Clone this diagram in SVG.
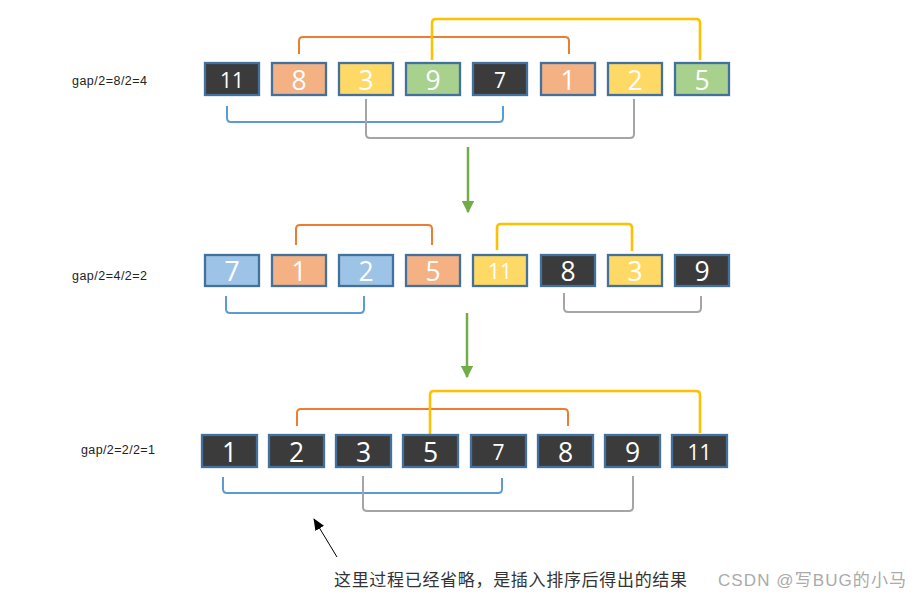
<svg xmlns="http://www.w3.org/2000/svg" width="921" height="600" viewBox="0 0 921 600">
<defs>
<style>
.box{stroke:#41719C;stroke-width:2.3}
.dk{fill:#3B3B3B}.or{fill:#F4B183}.ye{fill:#FFD966}.gr{fill:#A9D18E}.bl{fill:#9DC3E6}
.num{font-family:"Open Sans","Liberation Sans",sans-serif;fill:#FFFFFF;text-anchor:middle;font-size:26.5px}
.sm{font-size:21px}
.lbl{font-family:"Liberation Sans","Open Sans",sans-serif;font-size:12.5px;fill:#222}
.br{fill:none;stroke-width:2;stroke-linejoin:round}
.bo{stroke:#ED7D31}.by{stroke:#FFC000;stroke-width:2.6}.bb{stroke:#5B9BD5}.bg{stroke:#A5A5A5}
.ga{stroke:#70AD47;stroke-width:2.5;fill:none}
</style>
<marker id="gh" markerWidth="5" markerHeight="5" refX="4.5" refY="2.5" orient="auto" markerUnits="strokeWidth">
<path d="M0,0 L5,2.5 L0,5 Z" fill="#70AD47"/>
</marker>
<marker id="bh" markerWidth="12" markerHeight="10" refX="11" refY="5" orient="auto" markerUnits="userSpaceOnUse">
<path d="M0,0 L12,5 L0,10 Z" fill="#000"/>
</marker>
</defs>
<rect width="921" height="600" fill="#FFFFFF"/>

<text class="lbl" x="72" y="85" textLength="75">gap/2=8/2=4</text>
<text class="lbl" x="72" y="280" textLength="75">gap/2=4/2=2</text>
<text class="lbl" x="81" y="454" textLength="74">gap/2=2/2=1</text>

<g id="connectors">
<path class="br bo" d="M299,54 V41 Q299,37 303,37 H565 Q569,37 569,41 V54"/>
<path class="br by" d="M432,60 V23 Q432,19 436,19 H696 Q700,19 700,23 V60"/>
<path class="br bb" d="M227,106 V118 Q227,122 231,122 H499 Q503,122 503,118 V106"/>
<path class="br bg" d="M366,99 V134 Q366,138 370,138 H630 Q634,138 634,134 V99"/>

<path class="br bo" d="M296,245 V229 Q296,225 300,225 H428 Q432,225 432,229 V245"/>
<path class="br by" d="M497,250 V228 Q497,224 501,224 H628 Q632,224 632,228 V251"/>
<path class="br bb" d="M226,296 V309 Q226,313 230,313 H360 Q364,313 364,309 V296"/>
<path class="br bg" d="M564,293 V308 Q564,312 568,312 H697 Q701,312 701,308 V296"/>

<path class="br bo" d="M297,426 V413 Q297,409 301,409 H564 Q568,409 568,413 V426"/>
<path class="br by" d="M430,434 V395 Q430,391 434,391 H696 Q700,391 700,395 V433"/>
<path class="br bb" d="M223,477 V489 Q223,493 227,493 H498 Q502,493 502,489 V478"/>
<path class="br bg" d="M363,476 V507 Q363,511 367,511 H629 Q633,511 633,507 V476"/>

<line class="ga" x1="468" y1="147" x2="468" y2="212" marker-end="url(#gh)"/>
<line class="ga" x1="467" y1="313" x2="467" y2="377" marker-end="url(#gh)"/>

<line x1="337" y1="557" x2="314" y2="519" stroke="#000" stroke-width="1" marker-end="url(#bh)"/>
</g>

<g id="r1n1"><rect class="box dk" x="205" y="63" width="54" height="32"/><text class="num sm" x="232" y="88">11</text></g>
<g id="r1n2"><rect class="box or" x="272" y="63" width="54" height="32"/><text class="num" x="299" y="90">8</text></g>
<g id="r1n3"><rect class="box ye" x="339" y="63" width="54" height="32"/><text class="num" x="366" y="90">3</text></g>
<g id="r1n4"><rect class="box gr" x="406" y="63" width="54" height="32"/><text class="num" x="433" y="90">9</text></g>
<g id="r1n5"><rect class="box dk" x="473" y="63" width="54" height="32"/><text class="num sm" x="500" y="88">7</text></g>
<g id="r1n6"><rect class="box or" x="541" y="63" width="54" height="32"/><text class="num" x="568" y="90">1</text></g>
<g id="r1n7"><rect class="box ye" x="608" y="63" width="54" height="32"/><text class="num" x="635" y="90">2</text></g>
<g id="r1n8"><rect class="box gr" x="675" y="63" width="54" height="32"/><text class="num" x="702" y="90">5</text></g>

<g id="r2n1"><rect class="box bl" x="205" y="255" width="54" height="31"/><text class="num" x="232" y="281">7</text></g>
<g id="r2n2"><rect class="box or" x="272" y="255" width="54" height="31"/><text class="num" x="299" y="281">1</text></g>
<g id="r2n3"><rect class="box bl" x="339" y="255" width="54" height="31"/><text class="num" x="366" y="281">2</text></g>
<g id="r2n4"><rect class="box or" x="406" y="255" width="54" height="31"/><text class="num" x="433" y="281">5</text></g>
<g id="r2n5"><rect class="box ye" x="473" y="255" width="54" height="31"/><text class="num sm" x="500" y="279">11</text></g>
<g id="r2n6"><rect class="box dk" x="541" y="255" width="54" height="31"/><text class="num" x="568" y="281">8</text></g>
<g id="r2n7"><rect class="box ye" x="608" y="255" width="54" height="31"/><text class="num" x="635" y="281">3</text></g>
<g id="r2n8"><rect class="box dk" x="675" y="255" width="54" height="31"/><text class="num" x="702" y="281">9</text></g>

<g id="r3n1"><rect class="box dk" x="202" y="435" width="55" height="32"/><text class="num" x="229.5" y="462">1</text></g>
<g id="r3n2"><rect class="box dk" x="269" y="435" width="55" height="32"/><text class="num" x="296.5" y="462">2</text></g>
<g id="r3n3"><rect class="box dk" x="336" y="435" width="55" height="32"/><text class="num" x="363.5" y="462">3</text></g>
<g id="r3n4"><rect class="box dk" x="403" y="435" width="55" height="32"/><text class="num" x="430.5" y="462">5</text></g>
<g id="r3n5"><rect class="box dk" x="471" y="435" width="55" height="32"/><text class="num sm" x="498.5" y="460">7</text></g>
<g id="r3n6"><rect class="box dk" x="538" y="435" width="55" height="32"/><text class="num" x="565.5" y="462">8</text></g>
<g id="r3n7"><rect class="box dk" x="605" y="435" width="55" height="32"/><text class="num" x="632.5" y="462">9</text></g>
<g id="r3n8"><rect class="box dk" x="672" y="435" width="55" height="32"/><text class="num sm" x="699.5" y="460">11</text></g>

<text x="334" y="586" font-family="'Noto Sans CJK SC',sans-serif" font-size="17" fill="#333" textLength="353">这里过程已经省略，是插入排序后得出的结果</text>
<text x="718" y="586" font-family="'Liberation Sans','Noto Sans CJK SC',sans-serif" font-size="17" fill="#AAAAAA" textLength="188">CSDN @写BUG的小马</text>
</svg>
